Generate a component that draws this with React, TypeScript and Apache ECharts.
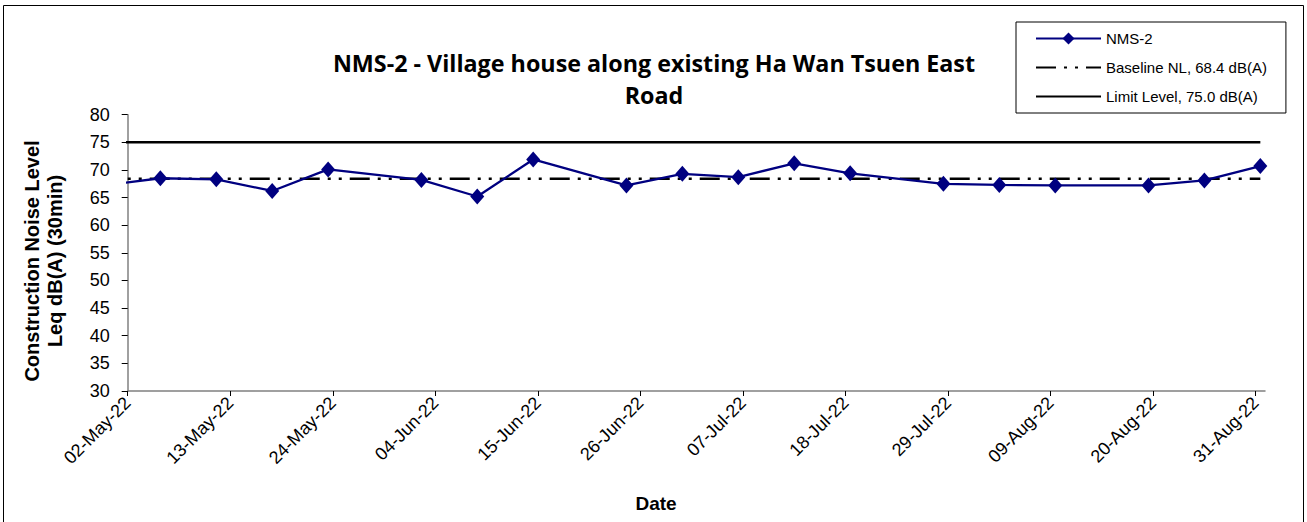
import React, { useEffect, useRef } from "react";
import * as echarts from "echarts";

// ---- data ----
const titleText = "NMS-2 - Village house along existing Ha Wan Tsuen East\nRoad";
const yAxisTitle = "Construction Noise Level\nLeq dB(A) (30min)";
const xAxisTitle = "Date";
const axisStartDate = "02-May-22";
const axisEndDate = "01-Sep-22";
const tickDates = [
  "02-May-22", "13-May-22", "24-May-22", "04-Jun-22", "15-Jun-22", "26-Jun-22",
  "07-Jul-22", "18-Jul-22", "29-Jul-22", "09-Aug-22", "20-Aug-22", "31-Aug-22",
];
const measureDates = [
  "29-Apr-22", "05-May-22", "11-May-22", "17-May-22", "23-May-22", "02-Jun-22",
  "08-Jun-22", "14-Jun-22", "24-Jun-22", "30-Jun-22", "06-Jul-22", "12-Jul-22",
  "18-Jul-22", "28-Jul-22", "03-Aug-22", "09-Aug-22", "19-Aug-22", "25-Aug-22",
  "31-Aug-22",
];
const nms2Values = [
  67.2, 68.5, 68.3, 66.2, 70.1, 68.2, 65.2, 71.9, 67.2, 69.3, 68.7, 71.2,
  69.4, 67.5, 67.3, 67.2, 67.2, 68.1, 70.7,
];
const baselineDates = ["29-Apr-22", "31-Aug-22"];
const baselineLevel = 68.4;
const limitLevel = 75.0;
const seriesNames = ["NMS-2", "Baseline NL, 68.4 dB(A)", "Limit Level, 75.0 dB(A)"];

// ---- helpers ----
const MONTHS = ["Jan", "Feb", "Mar", "Apr", "May", "Jun", "Jul", "Aug", "Sep", "Oct", "Nov", "Dec"];
const DAY = 86400000;
function parseDate(s: string): number {
  const [dd, mon, yy] = s.split("-");
  return Date.UTC(2000 + Number(yy), MONTHS.indexOf(mon), Number(dd));
}
const BASE = parseDate(axisStartDate);
const dayOf = (s: string) => Math.round((parseDate(s) - BASE) / DAY);
function fmt(d: number): string {
  const dt = new Date(BASE + Math.round(d) * DAY);
  const dd = String(dt.getUTCDate()).padStart(2, "0");
  const yy = String(dt.getUTCFullYear() % 100).padStart(2, "0");
  return `${dd}-${MONTHS[dt.getUTCMonth()]}-${yy}`;
}

const FONT = "'Liberation Sans', Arial, sans-serif";

export default function App() {
  const ref = useRef<HTMLDivElement>(null);
  useEffect(() => {
    if (!ref.current) return;
    const chart = echarts.init(ref.current, undefined, { renderer: "svg" });
    const ticks = tickDates.map(dayOf);
    const nmsData = measureDates.map((d, i) => [dayOf(d) + 0.5, nms2Values[i]]);
    const baseData = baselineDates.map((d, i) => [dayOf(d) + (i === 1 ? 0.5 : 0), baselineLevel]);
    const limitData = baselineDates.map((d, i) => [dayOf(d) + (i === 1 ? 0.5 : 0), limitLevel]);

    chart.setOption({
      animation: false,
      backgroundColor: "#fff",
      title: {
        text: titleText,
        left: 649,
        top: 42,
        textAlign: "center",
        textStyle: {
          fontFamily: "'Open Sans', sans-serif",
          fontWeight: "bold",
          fontSize: 23.3,
          lineHeight: 32,
          color: "#000",
        },
      },
      legend: {
        orient: "vertical",
        left: 1016,
        top: 22,
        padding: [9, 19, 9, 19],
        itemGap: 14,
        itemWidth: 65,
        itemHeight: 15,
        borderColor: "#000",
        borderWidth: 1,
        textStyle: { fontFamily: FONT, fontSize: 15, color: "#000" },
        data: [
          { name: seriesNames[0] },
          { name: seriesNames[1], itemStyle: { opacity: 0 } },
          { name: seriesNames[2], itemStyle: { opacity: 0 } },
        ],
      },
      grid: { left: 127.7, right: 42, top: 114.7, bottom: 131, containLabel: false },
      xAxis: {
        type: "value",
        min: 0,
        max: dayOf(axisEndDate),
        splitLine: { show: false },
        axisLine: { show: true, onZero: false, lineStyle: { color: "#808080", width: 1.5 } },
        axisTick: {
          show: true,
          customValues: ticks,
          length: 5,
          lineStyle: { color: "#000", width: 1 },
        },
        axisLabel: {
          customValues: ticks,
          rotate: 45,
          margin: 9,
          formatter: (v: number) => fmt(v),
          fontFamily: FONT,
          fontSize: 18,
          color: "#000",
        },
      },
      yAxis: {
        type: "value",
        min: 30,
        max: 80,
        interval: 5,
        splitLine: { show: false },
        axisLine: { show: true, lineStyle: { color: "#808080", width: 1.5 } },
        axisTick: { show: true, length: 6, lineStyle: { color: "#000", width: 1 } },
        axisLabel: { margin: 18, fontFamily: FONT, fontSize: 18, color: "#000" },
      },
      series: [
        {
          name: seriesNames[0],
          type: "line",
          data: nmsData,
          clip: true,
          symbol: "diamond",
          symbolSize: [14, 16],
          itemStyle: { color: "#000080" },
          lineStyle: { color: "#000080", width: 2.3 },
          z: 5,
        },
        {
          name: seriesNames[1],
          type: "line",
          data: baseData,
          clip: true,
          symbol: "none",
          itemStyle: { color: "#000" },
          lineStyle: { color: "#000", width: 2.5, type: [20, 8, 3, 8, 3, 8] },
          z: 3,
        },
        {
          name: seriesNames[2],
          type: "line",
          data: limitData,
          clip: true,
          symbol: "none",
          itemStyle: { color: "#000" },
          lineStyle: { color: "#000", width: 2.5 },
          z: 3,
        },
      ],
      graphic: [
        {
          type: "rect",
          silent: true,
          shape: { x: 3.5, y: 5.5, width: 1300, height: 520 },
          style: { fill: "none", stroke: "#000", lineWidth: 1 },
          z: -1,
        },
        {
          type: "text",
          x: 43,
          y: 261,
          rotation: Math.PI / 2,
          style: {
            text: yAxisTitle,
            align: "center",
            verticalAlign: "middle",
            font: `bold 20px ${FONT}`,
            lineHeight: 23,
            fill: "#000",
          },
        },
        {
          type: "text",
          x: 656,
          y: 503,
          style: {
            text: xAxisTitle,
            align: "center",
            verticalAlign: "middle",
            font: `bold 19px ${FONT}`,
            fill: "#000",
          },
        },
      ],
    });
    return () => chart.dispose();
  }, []);
  return (
    <div
      ref={ref}
      style={{ position: "absolute", left: 0, top: 0, width: 1307, height: 522 }}
    />
  );
}
